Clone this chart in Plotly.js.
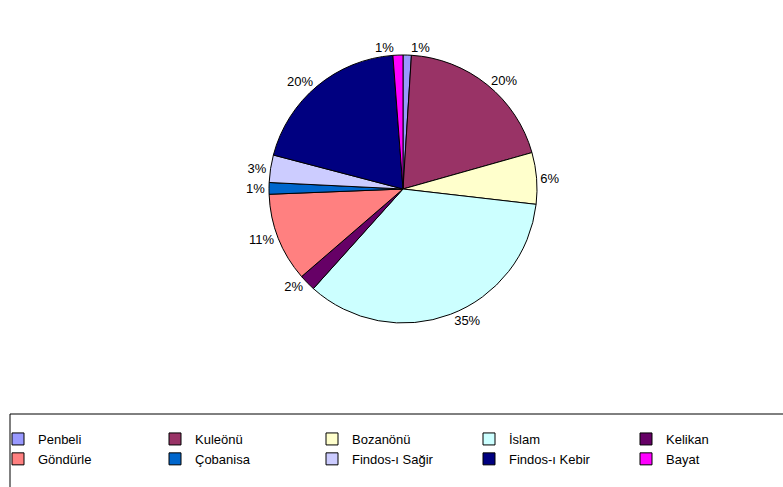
<!DOCTYPE html>
<html>
<head>
<meta charset="utf-8">
<script src="https://cdn.plot.ly/plotly-3.0.1.min.js"></script>
<style>html,body{margin:0;padding:0;background:#fff;}#chart{width:783px;height:487px;}</style>
</head>
<body>
<div id="chart"></div>
<script>
const villages = ["Penbeli", "Kuleönü", "Bozanönü", "İslam", "Kelikan", "Göndürle", "Çobanisa", "Findos-ı Sağir", "Findos-ı Kebir", "Bayat"];
const shares = [1.0, 19.6, 6.2, 34.8, 2.0, 10.7, 1.4, 3.3, 19.7, 1.2];
const sliceColors = ["#9999FF", "#993366", "#FFFFCC", "#CCFFFF", "#660066", "#FF8080", "#0066CC", "#CCCCFF", "#000080", "#FF00FF"];

const W = 783, H = 487, MB = 70;
const plotH = H - MB;
const px2x = p => p / W;
const py2y = p => (plotH - p) / plotH;

const trace = {
  type: "pie",
  labels: villages,
  values: shares,
  sort: false,
  direction: "clockwise",
  rotation: 0,
  marker: {colors: sliceColors, line: {color: "#000000", width: 1}},
  textposition: "outside",
  texttemplate: "%{percent:.0%}",
  outsidetextfont: {family: "Arial, 'Liberation Sans', sans-serif", size: 13, color: "#000000"},
  hoverinfo: "label+percent",
  domain: {x: [px2x(269), px2x(537)], y: [py2y(323), py2y(55)]}
};

const layout = {
  width: W,
  height: H,
  margin: {l: 0, r: 0, t: 0, b: MB, autoexpand: false},
  paper_bgcolor: "#ffffff",
  font: {family: "Arial, 'Liberation Sans', sans-serif", size: 13, color: "#000000"},
  showlegend: true,
  legend: {
    orientation: "h",
    x: px2x(-2), xanchor: "left",
    y: py2y(424), yanchor: "top",
    entrywidth: 112,
    entrywidthmode: "pixels",
    borderwidth: 0,
    bgcolor: "rgba(0,0,0,0)",
    font: {family: "Arial, 'Liberation Sans', sans-serif", size: 13, color: "#000000"},
    traceorder: "normal"
  },
  shapes: [{
    type: "rect", xref: "paper", yref: "paper",
    x0: px2x(10), x1: px2x(800), y0: py2y(500), y1: py2y(414),
    line: {color: "#000000", width: 1}, fillcolor: "rgba(0,0,0,0)", layer: "below"
  }]
};

Plotly.newPlot("chart", [trace], layout, {displayModeBar: false, staticPlot: true});
</script>
</body>
</html>
